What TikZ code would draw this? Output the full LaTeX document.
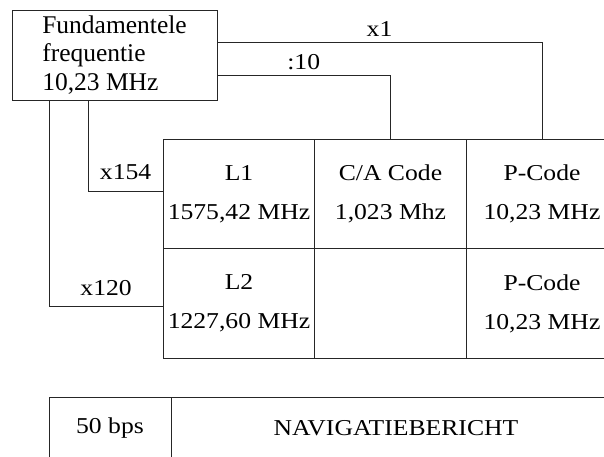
\documentclass[tikz,border=0pt]{standalone}
\usepackage{fontspec}
\setmainfont{Liberation Serif}[FakeStretch=1.13]
\newfontfamily\plainserif{Liberation Serif}
\usetikzlibrary{positioning}

\begin{document}
\begin{tikzpicture}[x=1pt,y=-1pt, line width=0.9pt,
    box/.style={draw=black!85, outer sep=0pt, inner sep=0pt, align=center,
                font=\fontsize{22.7}{39}\selectfont},
    cell/.style={box, minimum width=151.5pt, minimum height=109.5pt},
    link/.style={draw=black!85},
    tag/.style={font=\fontsize{22.7}{27}\selectfont, inner sep=5pt}]
  \useasboundingbox (0,0) rectangle (604,456);
  \clip (0,0) rectangle (604,456);
  % --- source oscillator ---
  \node[box, align=left, minimum width=205pt, minimum height=90pt,
        font=\plainserif\fontsize{25.5}{28.5}\selectfont] (fund) at (114.5,55)
        {Fundamentele\\frequentie\\10,23 MHz};
  % --- signal grid ---
  \node[cell] (l1) at (239,194) {L1\\1575,42 MHz};
  \node[cell, right=0pt of l1] (ca) {C/A Code\\1,023 Mhz};
  \node[cell, right=0pt of ca] (pc1) {P-Code\\10,23 MHz};
  \node[cell, below=0pt of l1] (l2) {L2\\1227,60 MHz};
  \node[cell, right=0pt of l2] (blank) {};
  \node[cell, right=0pt of blank] (pc2) {P-Code\\10,23 MHz};
  % --- multipliers ---
  \draw[link] ([yshift=13pt]fund.east) -| (pc1.north)
    node[tag, pos=0.25, above] (tx1) {x1};
  \draw[link] ([yshift=-20pt]fund.east) -| (ca.north)
    node[tag, pos=0.25, above] (t10) {:10};
  \draw[link] ([xshift=-26.5pt]fund.south) |- ([yshift=3pt]l1.west)
    node[tag, pos=0.75, above, yshift=6pt] (t154) {x154};
  \draw[link] ([xshift=-65.5pt]fund.south) |- ([yshift=-2.5pt]l2.west)
    node[tag, pos=0.75, above, yshift=5pt] (t120) {x120};
  % --- data message ---
  \node[box, minimum width=122pt, minimum height=62pt] (bps) at (110,428) {50 bps};
  \node[box, minimum width=450pt, minimum height=62pt, right=0pt of bps] (nav)
    {NAVIGATIEBERICHT};
\end{tikzpicture}
\end{document}
